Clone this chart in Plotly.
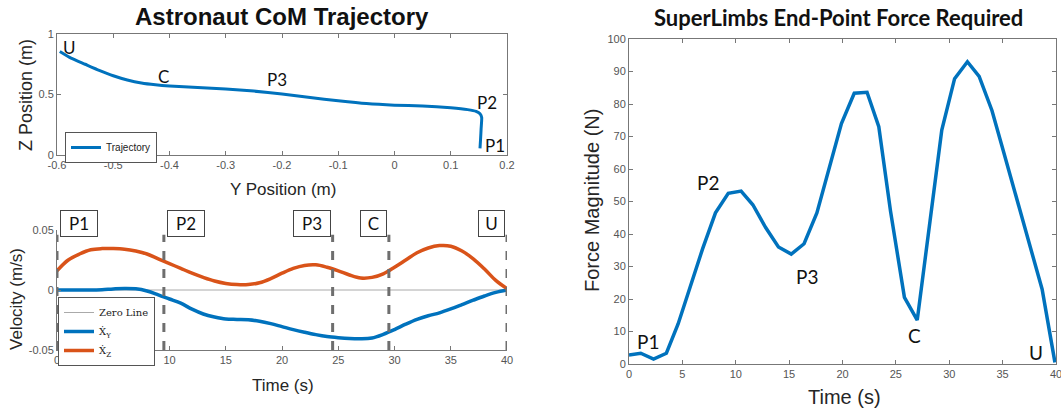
import plotly.graph_objects as go

# ---------------- data ----------------
traj_y = [-0.595, -0.575, -0.55, -0.525, -0.50, -0.475, -0.45, -0.425, -0.40, -0.35, -0.30,
          -0.25, -0.20, -0.15, -0.10, -0.05, 0.0, 0.05, 0.10, 0.13, 0.145, 0.152, 0.155,
          0.154, 0.153, 0.152]
traj_z = [0.855, 0.80, 0.75, 0.70, 0.655, 0.62, 0.595, 0.58, 0.57, 0.557, 0.545,
          0.528, 0.505, 0.475, 0.448, 0.425, 0.412, 0.405, 0.39, 0.375, 0.36, 0.34, 0.31,
          0.22, 0.13, 0.055]

vel_t = list(range(0, 41))
vel_y = [0, 0, 0, 0, 0.0003, 0.0009, 0.0013, 0.001, -0.0008, -0.004, -0.0075, -0.011,
         -0.016, -0.02, -0.0225, -0.0242, -0.0245, -0.0248, -0.026, -0.028, -0.0305,
         -0.033, -0.0352, -0.0372, -0.0388, -0.0398, -0.0405, -0.0407, -0.040, -0.037,
         -0.033, -0.0285, -0.0245, -0.0215, -0.019, -0.0158, -0.0122, -0.0085, -0.005,
         -0.002, 0.0]
vel_z = [0.016, 0.025, 0.030, 0.0335, 0.0345, 0.0345, 0.034, 0.0325, 0.030, 0.026, 0.022,
         0.018, 0.014, 0.0105, 0.0075, 0.0055, 0.0045, 0.0045, 0.006, 0.0095, 0.014,
         0.018, 0.0205, 0.021, 0.019, 0.016, 0.0125, 0.010, 0.0105, 0.0135, 0.019,
         0.025, 0.031, 0.035, 0.037, 0.0365, 0.0325, 0.026, 0.0175, 0.008, 0.0012]

phase_times = [0, 9.5, 24.5, 29.5, 40]
phase_labels = ["P1", "P2", "P3", "C", "U"]

force_t = [0, 1.1, 2.3, 3.5, 4.6, 5.8, 6.9, 8.1, 9.3, 10.5, 11.6, 12.8, 14.0, 15.2, 16.4,
           17.6, 18.7, 19.9, 21.1, 22.3, 23.4, 24.5, 25.8, 27.0, 28.2, 29.3, 30.5, 31.7,
           32.8, 34.0, 35.2, 36.4, 37.5, 38.7, 39.9]
force_f = [2.8, 3.3, 1.5, 3.3, 12.3, 24.5, 35.5, 46.5, 52.5, 53.2, 49, 42, 36, 33.8, 37,
           46.5, 60, 74, 83.3, 83.6, 73, 47, 20.5, 13.5, 44, 72, 87.8, 93, 88.5, 78, 64,
           50, 37, 23, 0.5]

x_ticks_traj = [-0.6, -0.5, -0.4, -0.3, -0.2, -0.1, 0, 0.1, 0.2]
z_ticks_traj = [0, 0.5, 1]
t_ticks = [0, 5, 10, 15, 20, 25, 30, 35, 40]
v_ticks = [-0.05, 0, 0.05]
f_ticks = list(range(0, 101, 10))

# ---------------- styling ----------------
W, H = 1061, 416
BLUE = "#0072BD"
ORANGE = "#D95319"
AX = "#777777"
TICKFONT = dict(family="Liberation Sans, Arial", size=11, color="#555555")
LABFONT = "Liberation Sans, Arial"
CAL = "Lato, Carlito, Calibri, sans-serif"


def fmt(v):
    return "%g" % v


fig = go.Figure()

fig.add_trace(go.Scatter(x=traj_y, y=traj_z, mode="lines", name="Trajectory",
                         line=dict(color=BLUE, width=3, shape="spline", smoothing=0.5),
                         xaxis="x", yaxis="y", legend="legend"))

fig.add_trace(go.Scatter(x=[vel_t[0], vel_t[-1]], y=[0, 0], mode="lines", name="Zero Line",
                         line=dict(color="#aaaaaa", width=1), xaxis="x2", yaxis="y2",
                         legend="legend2"))
fig.add_trace(go.Scatter(x=vel_t, y=vel_y, mode="lines", name="Ẋ<sub>Y</sub>",
                         line=dict(color=BLUE, width=3.5, shape="spline"),
                         xaxis="x2", yaxis="y2", legend="legend2"))
fig.add_trace(go.Scatter(x=vel_t, y=vel_z, mode="lines", name="Ẋ<sub>Z</sub>",
                         line=dict(color=ORANGE, width=3.5, shape="spline"),
                         xaxis="x2", yaxis="y2", legend="legend2"))

fig.add_trace(go.Scatter(x=force_t, y=force_f, mode="lines", showlegend=False,
                         line=dict(color=BLUE, width=3.5), xaxis="x3", yaxis="y3"))

# phase dashed lines
for t in phase_times:
    fig.add_shape(type="line", xref="x2", yref="y2", x0=t, x1=t, y0=-0.05, y1=0.046,
                  line=dict(color="#6e6e6e", width=3, dash="dash"), layer="above")

annotations = []
# phase boxes
for t, lab in zip(phase_times, phase_labels):
    left_side = lab in ("P1", "P2")
    annotations.append(dict(
        x=t, xref="x2", y=1 - 210 / H, yref="paper",
        xanchor="left" if left_side else "right", yanchor="top",
        xshift=3 if left_side else -2,
        text=lab, showarrow=False,
        font=dict(family=CAL, size=17, color="#111111"),
        bordercolor="#444444", borderwidth=1, borderpad=1, bgcolor="white",
        width=11 * len(lab) + 12, height=23))

# trajectory labels
traj_labels = {"U": (-0.577, 0.89), "C": (-0.41, 0.65), "P3": (-0.209, 0.62),
               "P2": (0.164, 0.43), "P1": (0.179, 0.08)}
for lab, (xx, yy) in traj_labels.items():
    annotations.append(dict(x=xx, y=yy, xref="x", yref="y", text=lab, showarrow=False,
                            xanchor="center", yanchor="middle",
                            font=dict(family=CAL, size=17, color="#111111")))

force_labels = {"P1": (1.8, 6.8), "P2": (7.4, 55.7), "P3": (16.7, 27), "C": (26.7, 8.9),
                "U": (38.1, 3.4)}
for lab, (xx, yy) in force_labels.items():
    annotations.append(dict(x=xx, y=yy, xref="x3", yref="y3", text=lab, showarrow=False,
                            xanchor="center", yanchor="middle",
                            font=dict(family=CAL, size=19, color="#111111")))


def paper_text(px, py, text, size, family=LABFONT, angle=0, color="#262626"):
    return dict(x=px / W, y=1 - py / H, xref="paper", yref="paper", text=text,
                textangle=angle, showarrow=False, xanchor="center", yanchor="middle",
                font=dict(family=family, size=size, color=color))


annotations += [
    paper_text(282, 17, "<b>Astronaut CoM Trajectory</b>", 24, color="#111111"),
    paper_text(838, 18, "<b>SuperLimbs End-Point Force Required</b>", 22, family=CAL,
               color="#111111"),
    paper_text(26, 95, "Z Position (m)", 18, angle=-90),
    paper_text(283, 189, "Y Position (m)", 17),
    paper_text(16, 299, "Velocity (m/s)", 17, angle=-90),
    paper_text(283, 385, "Time (s)", 17),
    paper_text(592, 201, "Force Magnitude (N)", 20, angle=-90),
    paper_text(844, 397, "Time (s)", 20),
]

axis_common = dict(showgrid=False, zeroline=False, showline=True, linecolor=AX, linewidth=1,
                   ticks="inside", ticklen=4, tickcolor=AX, tickfont=TICKFONT,
                   ticklabeloverflow="allow")

fig.update_layout(
    width=W, height=H, margin=dict(l=0, r=0, t=0, b=0, autoexpand=False),
    paper_bgcolor="white", plot_bgcolor="white",
    xaxis=dict(domain=[57 / W, 507 / W], range=[-0.6, 0.2], anchor="y", mirror="allticks",
               tickvals=x_ticks_traj, ticktext=[fmt(v) for v in x_ticks_traj], **axis_common),
    yaxis=dict(domain=[1 - 155 / H, 1 - 34 / H], range=[0, 1], anchor="x", mirror="allticks",
               tickvals=z_ticks_traj, ticktext=[fmt(v) for v in z_ticks_traj], **axis_common),
    xaxis2=dict(domain=[57 / W, 507 / W], range=[0, 40], anchor="y2",
                tickvals=t_ticks, ticktext=[fmt(v) for v in t_ticks], **axis_common),
    yaxis2=dict(domain=[1 - 350 / H, 1 - 230 / H], range=[-0.05, 0.05], anchor="x2",
                tickvals=v_ticks, ticktext=[fmt(v) for v in v_ticks], **axis_common),
    xaxis3=dict(domain=[629 / W, 1056 / W], range=[0, 40], anchor="y3", mirror="allticks",
                tickvals=t_ticks, ticktext=[fmt(v) for v in t_ticks], **axis_common),
    yaxis3=dict(domain=[1 - 364 / H, 1 - 39 / H], range=[0, 100], anchor="x3", mirror="allticks",
                tickvals=f_ticks, ticktext=[fmt(v) for v in f_ticks], **axis_common),
    legend=dict(x=65 / W, y=1 - 132 / H, xanchor="left", yanchor="top",
                bordercolor="#555555", borderwidth=1, bgcolor="white",
                font=dict(family=LABFONT, size=10, color="#222222"), itemwidth=30,
                tracegroupgap=0),
    legend2=dict(x=58 / W, y=1 - 297 / H, xanchor="left", yanchor="top",
                 bordercolor="#555555", borderwidth=1, bgcolor="white",
                 font=dict(family="DejaVu Serif, Liberation Serif, serif", size=10, color="#222222"),
                 itemwidth=30, tracegroupgap=0),
    annotations=annotations,
    showlegend=True,
)

fig.write_html("out.html", config={"displayModeBar": False},
               post_script="document.body.style.margin='0';")
